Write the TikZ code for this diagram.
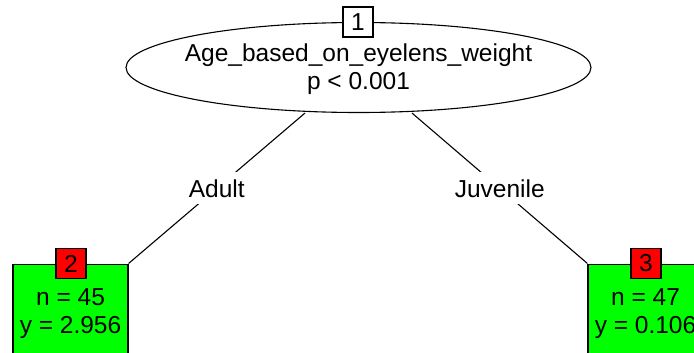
\documentclass[tikz,border=0pt]{standalone}
\usepackage{fontspec}
\setmainfont{Liberation Sans}
\usetikzlibrary{shapes.geometric,calc}

\tikzset{
  txt/.style={font=\fontsize{24.5}{28}\selectfont, inner sep=0pt, anchor=base},
  splitnode/.style={draw, ellipse, line width=1.1pt, fill=white, minimum width=465pt, minimum height=90pt, inner sep=0pt},
  idbox/.style={draw, line width=1.1pt, minimum width=30pt, minimum height=30pt, inner sep=0pt, font=\fontsize{24.5}{28}\selectfont},
  leafbox/.style={draw, line width=1.1pt, fill=green, anchor=north, minimum width=115pt, minimum height=110pt, inner sep=0pt},
  edge/.style={line width=1.1pt},
  edgelbl/.style={fill=white, inner sep=0pt, minimum height=32pt, minimum width=60pt, font=\fontsize{24.5}{28}\selectfont, text height=17.5pt, text depth=0pt}
}

\begin{document}
\begin{tikzpicture}[x=1pt, y=-1pt]
  \useasboundingbox (0,0) rectangle (694,353);
  \clip (0,0) rectangle (694,353);

  % inner split node
  \node[splitnode] (root) at (358.5,67.5) {};
  \node[txt] (rootvar) at (358.5,62) {Age\_based\_on\_eyelens\_weight};
  \node[txt] (rootp) at (358.5,90) {p < 0.001};
  \node[idbox, fill=white] (id1) at (358,22) {1};

  % terminal nodes
  \node[leafbox] (leaf2) at (70.5,263.5) {};
  \node[idbox, fill=red] (id2) at (71,263.5) {2};
  \node[txt] (leaf2n) at (70.5,305) {n = 45};
  \node[txt] (leaf2y) at (70.5,333) {y = 2.956};

  \node[leafbox] (leaf3) at (645.5,263.5) {};
  \node[idbox, fill=red] (id3) at (646,263.5) {3};
  \node[txt] (leaf3n) at (645.5,305) {n = 47};
  \node[txt] (leaf3y) at (645.5,333) {y = 0.106};

  % branches
  \coordinate (rootL) at ($(root.south)+(-53.5,0)$);
  \coordinate (rootR) at ($(root.south)+(53.5,0)$);
  \draw[edge] (rootL) -- node[edgelbl] (lblA) {Adult} (leaf2.north east);
  \draw[edge] (rootR) -- node[edgelbl] (lblJ) {Juvenile} (leaf3.north west);

  % redraw number boxes over the leaf borders
  \node[idbox, fill=red] at (id2) {2};
  \node[idbox, fill=red] at (id3) {3};
\end{tikzpicture}
\end{document}
